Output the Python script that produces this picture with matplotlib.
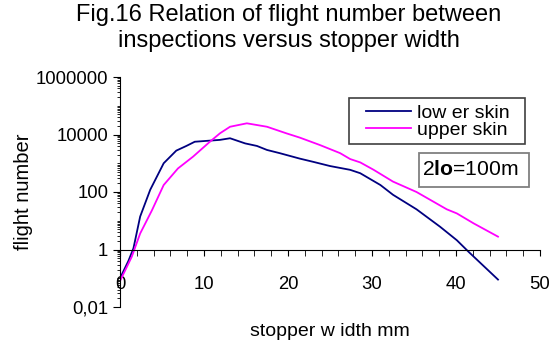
import matplotlib
matplotlib.use("Agg")
import matplotlib.pyplot as plt
from matplotlib.patches import Rectangle
from matplotlib.ticker import FixedLocator, LogLocator, NullFormatter, FuncFormatter

plt.rcParams['font.family'] = ['Liberation Sans', 'DejaVu Sans']
plt.rcParams['mathtext.fontset'] = 'custom'
plt.rcParams['mathtext.rm'] = 'Liberation Sans'
plt.rcParams['mathtext.bf'] = 'Liberation Sans:bold'

# stopper width (mm) and flight number
x_lower = [0, 1, 1.6, 2.4, 3.6, 5.2, 6.7, 7.9, 8.9, 10.3, 11.9, 13.1, 14.9, 16.3, 17.5,
           19.0, 21.4, 23.0, 25.0, 27.4, 28.6, 31.0, 32.5, 35.3, 38.1, 40.1, 41.5, 45.0]
y_lower = [0.1, 0.4, 1.1, 14, 120, 1000, 2750, 4000, 5600, 6000, 6500, 7400, 4900, 4000, 2900,
           2250, 1450, 1120, 800, 590, 450, 175, 80, 25, 6.2, 2.1, 0.83, 0.09]

x_upper = [0, 1.4, 2.4, 3.8, 5.2, 6.9, 8.7, 10.7, 11.9, 13.1, 15.1, 17.5, 19.8, 21.4, 23.8,
           26.2, 27.4, 28.6, 30.2, 32.5, 35.3, 38.9, 40.1, 42.1, 45.0]
y_upper = [0.08, 0.56, 3.6, 23, 175, 660, 1700, 5600, 11000, 18600, 24500, 18600, 11000, 7800, 4300,
           2250, 1400, 1070, 590, 230, 100, 25, 18, 8.1, 2.8]

W, H = 553, 342
fig = plt.figure(figsize=(W / 100, H / 100), dpi=100)
ax = fig.add_axes([120 / W, 1 - 307 / H, 420 / W, 230 / H])

ax.plot(x_lower, y_lower, color='#000080', lw=1.3, label='low er skin')
ax.plot(x_upper, y_upper, color='#FF00FF', lw=1.3, label='upper skin')

ax.set_yscale('log')
ax.set_xlim(0, 50)
ax.set_ylim(0.01, 1e6)

ax.spines['top'].set_visible(False)
ax.spines['right'].set_visible(False)
ax.spines['bottom'].set_position(('data', 1))

ax.xaxis.set_major_locator(FixedLocator([0, 10, 20, 30, 40, 50]))
ax.xaxis.set_minor_locator(FixedLocator(list(range(2, 50, 2))))
ax.tick_params(axis='x', which='both', direction='out', length=4, pad=15, labelsize=13.3)

ax.yaxis.set_major_locator(FixedLocator([0.01, 1, 100, 1e4, 1e6]))
ax.yaxis.set_minor_locator(LogLocator(base=10, subs=range(1, 10), numticks=20))
ax.yaxis.set_minor_formatter(NullFormatter())
ax.yaxis.set_major_formatter(FuncFormatter(lambda v, p: '0,01' if v < 0.1 else '%d' % v))
ax.tick_params(axis='y', which='major', direction='out', length=5, labelsize=13.3)
ax.tick_params(axis='y', which='minor', direction='out', length=2.5)

ax.set_ylabel('flight number', fontsize=14.5)
ax.yaxis.set_label_coords(-0.207, 0.5)
ax.set_xlabel('stopper w idth mm', fontsize=14)
ax.xaxis.set_label_coords(0.5, -0.068)

fig.text(289 / W, 1 - 4 / H, 'Fig.16 Relation of flight number between\ninspections versus stopper width',
         ha='center', va='top', fontsize=17, linespacing=1.25)

# legend frame and text box frame
ax.add_patch(Rectangle((349 / W, 1 - 144 / H), 176 / W, 46 / H, transform=fig.transFigure,
                       fc='white', ec='#404040', lw=1.2, zorder=3, clip_on=False))
ax.add_patch(Rectangle((419 / W, 1 - 187 / H), 110 / W, 34 / H, transform=fig.transFigure,
                       fc='white', ec='#808080', lw=1.3, zorder=3, clip_on=False))

leg = ax.legend(loc='upper left', bbox_to_anchor=(366 / W, 1 - 104 / H), bbox_transform=fig.transFigure,
                fontsize=14, frameon=False, handlelength=2.3, borderpad=0, labelspacing=0.0,
                handletextpad=0.3, borderaxespad=0)
leg.set_zorder(5)

ax.text(422 / W, 1 - 170 / H, r'2$\mathbf{lo}$=100m', transform=fig.transFigure,
        ha='left', va='center', fontsize=15.2, zorder=5)

fig.savefig('out.png', dpi=100)
